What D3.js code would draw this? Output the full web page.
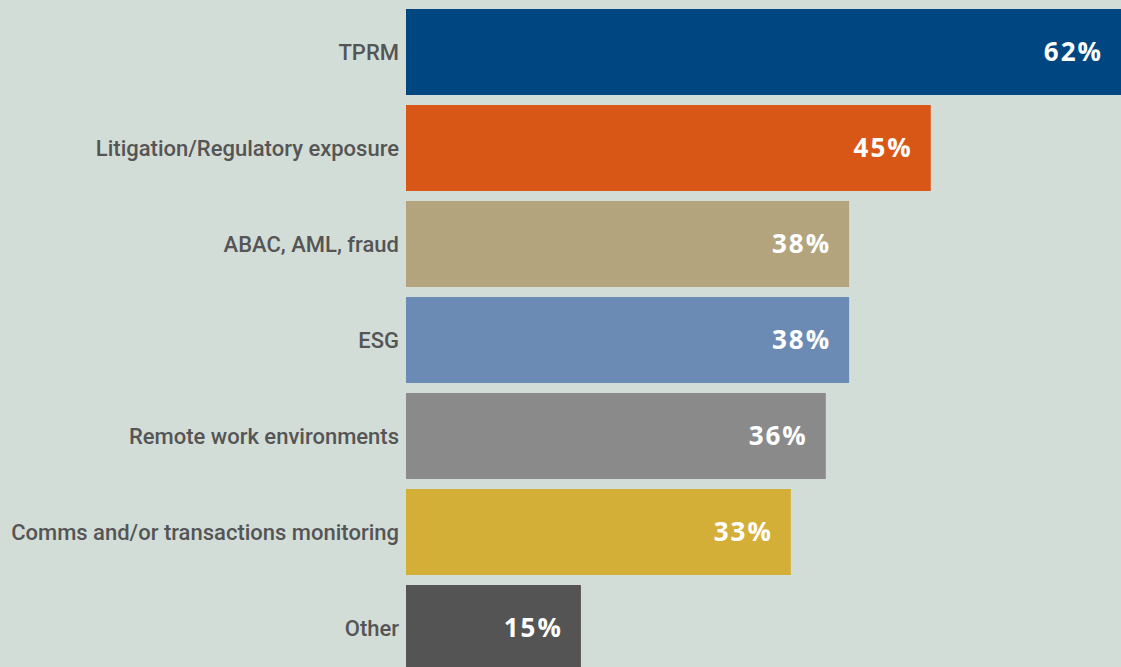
<!DOCTYPE html>
<html><head><meta charset="utf-8">
<script src="https://cdn.jsdelivr.net/npm/d3@7"></script>
<style>html,body{margin:0;padding:0;background:#d3ddd8;overflow:hidden;}</style>
</head><body>
<svg id="c" width="1121" height="667"></svg>
<script>
const categories = ["TPRM","Litigation/Regulatory exposure","ABAC, AML, fraud","ESG","Remote work environments","Comms and/or transactions monitoring","Other"];
const values = [62,45,38,38,36,33,15];
const colors = ["#004680","#d95716","#b3a47e","#6b8bb5","#8a8a8a","#d4af37","#545454"];

const svg = d3.select("#c");
svg.append("rect").attr("width",1121).attr("height",667).attr("fill","#d3ddd8");
const x0 = 406;
const x = d3.scaleLinear().domain([0,62]).range([0,723]);
const y = d3.scaleBand().domain(categories).range([9,671]).paddingInner(10/96).paddingOuter(0);

const g = svg.append("g").attr("transform",`translate(${x0},0)`);
g.selectAll("rect.bar").data(categories).join("rect").attr("class","bar")
  .attr("x",0).attr("y",d=>y(d)).attr("width",(d,i)=>x(values[i])).attr("height",y.bandwidth())
  .attr("fill",(d,i)=>colors[i]);

g.selectAll("text.val").data(categories).join("text").attr("class","val")
  .attr("x",(d,i)=>Math.min(x(values[i]),715)-18).attr("y",d=>y(d)+y.bandwidth()/2)
  .attr("dy","0.36em").attr("text-anchor","end")
  .attr("font-family","'Open Sans','Noto Sans',sans-serif").attr("font-weight","bold")
  .attr("font-size","26px").attr("fill","#ffffff").attr("letter-spacing","2px")
  .text((d,i)=>values[i]+"%");

svg.selectAll("text.lab").data(categories).join("text").attr("class","lab")
  .attr("x",399).attr("y",d=>y(d)+y.bandwidth()/2)
  .attr("dy","0.36em").attr("text-anchor","end")
  .attr("font-family","Roboto,sans-serif").attr("font-size","22px").attr("font-weight","500").attr("fill","#555555")
  .text(d=>d);
</script>
</body></html>
